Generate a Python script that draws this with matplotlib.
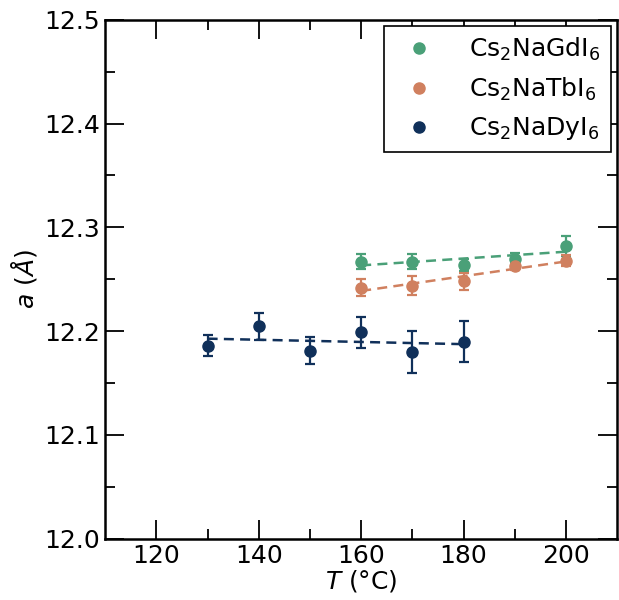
import numpy as np
import matplotlib.pyplot as plt

# lattice parameter vs temperature for the three iodides
T_gd = np.array([160, 170, 180, 190, 200])
a_gd = np.array([12.267, 12.267, 12.264, 12.270, 12.282])
e_gd = np.array([0.007, 0.007, 0.006, 0.005, 0.010])

T_tb = np.array([160, 170, 180, 190, 200])
a_tb = np.array([12.242, 12.244, 12.248, 12.263, 12.268])
e_tb = np.array([0.008, 0.009, 0.008, 0.004, 0.005])

T_dy = np.array([130, 140, 150, 160, 170, 180])
a_dy = np.array([12.186, 12.205, 12.181, 12.199, 12.180, 12.190])
e_dy = np.array([0.010, 0.013, 0.013, 0.015, 0.020, 0.020])

labels = [r'Cs$_2$NaGdI$_6$', r'Cs$_2$NaTbI$_6$', r'Cs$_2$NaDyI$_6$']
colors = ['#4aa078', '#d0805f', '#10305a']

fig = plt.figure(figsize=(6.19, 6.0), dpi=100)
ax = fig.add_axes([0.170, 0.102, 0.827, 0.865])

series = [(T_gd, a_gd, e_gd), (T_tb, a_tb, e_tb), (T_dy, a_dy, e_dy)]
handles = []
for (T, a, e), lab, c in zip(series, labels, colors):
    ax.errorbar(T, a, yerr=e, fmt='none', ecolor=c, elinewidth=1.6,
                capsize=3.5, capthick=1.6, zorder=2)
    h, = ax.plot(T, a, 'o', color=c, ms=8, label=lab, zorder=3)
    handles.append(h)
    # linear fit
    p = np.polyfit(T, a, 1)
    xs = np.array([T.min(), T.max()])
    ax.plot(xs, np.polyval(p, xs), '--', color=c, lw=1.8, dashes=(4, 2.5), zorder=2)

ax.set_xlim(110, 210)
ax.set_ylim(12.0, 12.5)
ax.set_xticks([120, 140, 160, 180, 200])
ax.set_xticks([130, 150, 170, 190], minor=True)
ax.set_yticks([12.0, 12.1, 12.2, 12.3, 12.4, 12.5])
ax.set_yticks([12.05, 12.15, 12.25, 12.35, 12.45], minor=True)
ax.set_yticklabels(['12.0', '12.1', '12.2', '12.3', '12.4', '12.5'])

ax.tick_params(which='both', direction='in', top=True, right=True, labelsize=18, width=1.3)
ax.tick_params(which='major', length=14)
ax.tick_params(which='minor', length=7)
for s in ax.spines.values():
    s.set_linewidth(1.8)

ax.set_xlabel(r'$T$ (°C)', fontsize=18, labelpad=0)
ax.set_ylabel(r'$a$ ($\AA$)', fontsize=18)

leg = ax.legend(handles=handles, loc='upper right', fontsize=18, fancybox=False,
                edgecolor='black', framealpha=1, handletextpad=1.0, borderaxespad=0.25)
leg.get_frame().set_linewidth(1.2)

fig.savefig('out.png', dpi=100)
